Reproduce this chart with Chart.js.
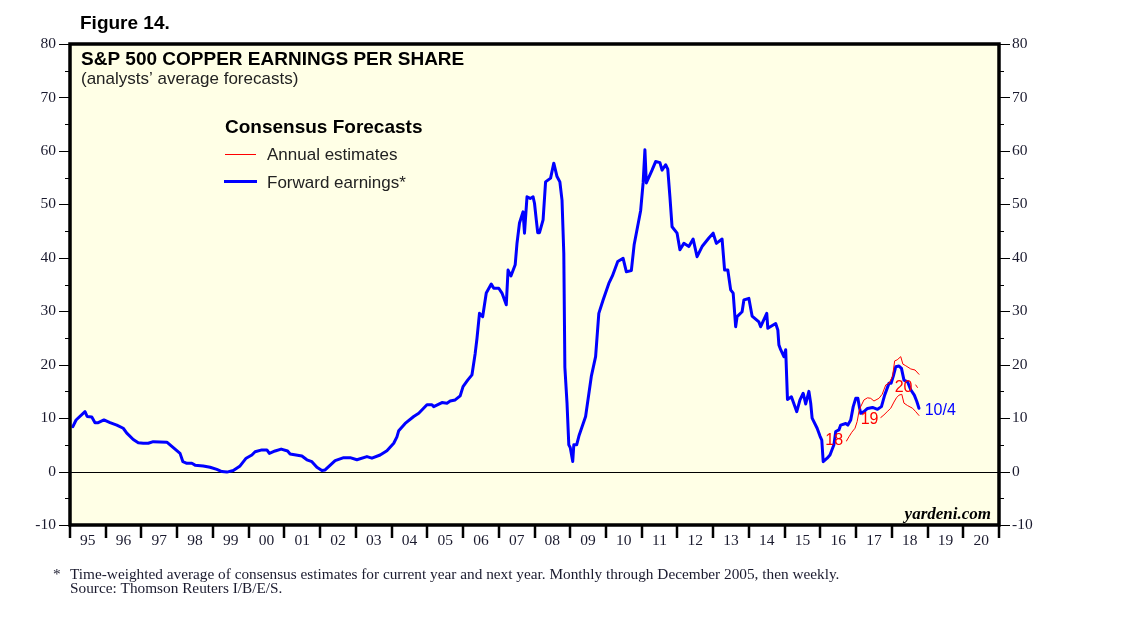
<!DOCTYPE html>
<html lang="en">
<head>
    <meta charset="UTF-8">
    <title>S&P 500 Copper Earnings Per Share</title>
    <script src="https://cdn.jsdelivr.net/npm/chart.js"></script>
    <style>
        body {
            margin: 0;
            background: #fff;
        }
        #wrap {
            width: 1138px;
            height: 621px;
        }
    </style>
</head>
<body>
    <div id="wrap"><canvas id="epsChart" width="1138" height="621"></canvas></div>

    <script>
        // forward earnings (blue), decimal years
        let fwdDates = [1995.08, 1995.17, 1995.42, 1995.48, 1995.61, 1995.70, 1995.79, 1995.95, 1996.12, 1996.31,
            1996.49, 1996.59, 1996.77, 1996.91, 1997.05, 1997.19, 1997.33, 1997.71, 1997.85, 1997.99,
            1998.08, 1998.16, 1998.27, 1998.41, 1998.50, 1998.73, 1998.92, 1999.11, 1999.25, 1999.39,
            1999.57, 1999.76, 1999.93, 2000.09, 2000.18, 2000.37, 2000.51, 2000.58, 2000.74, 2000.91,
            2001.09, 2001.16, 2001.49, 2001.63, 2001.77, 2001.91, 2002.05, 2002.14, 2002.42, 2002.66,
            2002.84, 2003.03, 2003.31, 2003.45, 2003.68, 2003.87, 2004.06, 2004.15, 2004.20, 2004.38,
            2004.62, 2004.76, 2004.99, 2005.13, 2005.18, 2005.41, 2005.55, 2005.64, 2005.78, 2005.92,
            2006.00, 2006.13, 2006.25, 2006.34, 2006.39, 2006.46, 2006.55, 2006.65, 2006.79, 2006.86,
            2007.00, 2007.09, 2007.21, 2007.26, 2007.34, 2007.46, 2007.51, 2007.58, 2007.68, 2007.72,
            2007.79, 2007.88, 2007.96, 2008.00, 2008.05, 2008.09, 2008.14, 2008.24, 2008.31, 2008.45,
            2008.54, 2008.63, 2008.71, 2008.77, 2008.82, 2008.85, 2008.91, 2008.96, 2009.00, 2009.07,
            2009.10, 2009.18, 2009.25, 2009.43, 2009.59, 2009.71, 2009.80, 2009.92, 2010.08, 2010.18,
            2010.33, 2010.48, 2010.57, 2010.71, 2010.79, 2010.97, 2011.04, 2011.09, 2011.13, 2011.29,
            2011.39, 2011.51, 2011.57, 2011.67, 2011.73, 2011.79, 2011.85, 2011.99, 2012.07, 2012.18,
            2012.32, 2012.44, 2012.55, 2012.69, 2012.88, 2013.00, 2013.09, 2013.25, 2013.32, 2013.41,
            2013.49, 2013.56, 2013.63, 2013.67, 2013.81, 2013.86, 2014.00, 2014.09, 2014.28, 2014.33,
            2014.50, 2014.53, 2014.75, 2014.81, 2014.84, 2014.89, 2014.98, 2015.03, 2015.08, 2015.19,
            2015.34, 2015.43, 2015.52, 2015.59, 2015.68, 2015.73, 2015.77, 2015.91, 2015.99, 2016.04,
            2016.08, 2016.19, 2016.27, 2016.38, 2016.43, 2016.52, 2016.57, 2016.71, 2016.77, 2016.85,
            2016.92, 2016.99, 2017.05, 2017.10, 2017.13, 2017.22, 2017.32, 2017.46, 2017.60, 2017.71,
            2017.80, 2017.92, 2017.98, 2018.04, 2018.11, 2018.20, 2018.27, 2018.34, 2018.44, 2018.53,
            2018.63, 2018.70, 2018.76];
        let fwdValues = [8.4, 9.65, 11.2, 10.3, 10.2, 9.15, 9.15, 9.65, 9.15, 8.7,
            8.1, 7.2, 6.0, 5.4, 5.3, 5.3, 5.6, 5.5, 4.7, 3.9,
            3.4, 1.85, 1.55, 1.55, 1.2, 1.05, 0.8, 0.4, 0.0, -0.1,
            0.2, 1.05, 2.5, 3.1, 3.7, 4.05, 4.05, 3.4, 3.85, 4.2,
            3.85, 3.3, 2.9, 2.2, 1.85, 0.8, 0.2, 0.3, 2.05, 2.6,
            2.6, 2.2, 2.8, 2.5, 3.1, 3.9, 5.3, 6.5, 7.65, 9.0,
            10.3, 10.9, 12.5, 12.5, 12.15, 12.9, 12.8, 13.2, 13.4, 14.15,
            15.9, 17.1, 18.1, 22.1, 24.9, 29.6, 29.0, 33.4, 35.1, 34.3,
            34.3, 33.4, 31.2, 37.7, 36.6, 38.7, 42.7, 46.5, 48.6, 44.6,
            51.4, 51.1, 51.4, 50.2, 47.1, 44.7, 44.7, 47.1, 54.2, 54.9,
            57.7, 55.2, 54.2, 50.8, 40.8, 19.5, 12.8, 5.0, 4.5, 1.9,
            5.0, 5.0, 6.8, 10.3, 17.8, 21.5, 29.6, 32.1, 35.2, 36.6,
            39.3, 39.9, 37.4, 37.6, 42.5, 48.8, 54.0, 60.2, 54.0, 56.4,
            58.0, 57.8, 56.4, 57.4, 56.6, 51.4, 45.8, 44.6, 41.5, 42.7,
            42.1, 43.5, 40.2, 42.1, 43.7, 44.6, 42.7, 43.5, 37.7, 37.7,
            34.0, 33.4, 27.1, 29.0, 29.9, 32.1, 32.4, 29.1, 28.0, 27.1,
            29.6, 26.8, 27.7, 26.5, 23.7, 22.8, 21.5, 22.8, 13.5, 14.0,
            11.2, 13.4, 14.65, 12.65, 15.0, 12.8, 10.0, 8.1, 6.65, 5.9,
            1.85, 2.5, 3.1, 5.0, 7.5, 7.8, 8.7, 9.0, 8.7, 9.65,
            12.15, 13.7, 13.7, 11.8, 10.9, 11.2, 11.8, 12.0, 11.65, 12.15,
            14.3, 16.5, 16.5, 17.8, 19.6, 19.75, 19.3, 17.1, 16.8, 15.3,
            14.3, 13.1, 11.85];

        // annual estimates (red)
        let est18Dates = [2016.73, 2016.80, 2016.88, 2016.97, 2017.03, 2017.08, 2017.13, 2017.22, 2017.32, 2017.41,
            2017.50, 2017.64, 2017.73, 2017.83, 2017.92, 2018.02, 2018.08, 2018.15, 2018.25, 2018.31,
            2018.39, 2018.53, 2018.65, 2018.76];
        let est18Values = [5.7, 6.5, 7.35, 8.1, 9.35, 11.2, 12.15, 13.4, 13.8, 13.7,
            13.2, 13.7, 14.45, 16.2, 16.5, 17.8, 20.7, 20.9, 21.5, 20.1,
            19.8, 19.2, 19.0, 18.2];
        let est19Dates = [2017.69, 2017.78, 2017.87, 2017.97, 2018.06, 2018.13, 2018.20, 2018.28, 2018.34, 2018.44,
            2018.58, 2018.67, 2018.76];
        let est19Values = [10.1, 10.6, 11.2, 11.85, 13.0, 13.8, 14.3, 14.45, 12.8, 12.35,
            11.85, 11.2, 10.5];
        let est20Dates = [2018.67, 2018.72, 2018.76];
        let est20Values = [16.2, 15.7, 15.3];

        let yearLabels = ["95", "96", "97", "98", "99", "00", "01", "02", "03", "04", "05", "06", "07",
            "08", "09", "10", "11", "12", "13", "14", "15", "16", "17", "18", "19", "20"];
        let yTickValues = [-10, 0, 10, 20, 30, 40, 50, 60, 70, 80];

        // in-chart labels: text, x (year), y (value), colour
        let lineLabels = [
            ["18", 2016.14, 5.8, "#ff0000"],
            ["19", 2017.13, 9.8, "#ff0000"],
            ["20", 2018.08, 15.8, "#ff0000"],
            ["10/4", 2018.92, 11.5, "#0000ff"]
        ];

        function toPoints(dates, values) {
            return dates.map((d, i) => ({ x: d, y: values[i] }));
        }

        const frame = {
            id: "frame",
            beforeDraw(chart) {
                let c = chart.ctx, a = chart.chartArea;
                c.save();
                c.fillStyle = "#ffffe6";
                c.fillRect(a.left, a.top, a.right - a.left, a.bottom - a.top);
                c.restore();
            },
            beforeDatasetsDraw(chart) {
                let c = chart.ctx, a = chart.chartArea, y = chart.scales.y;
                let y0 = Math.round(y.getPixelForValue(0)) + 0.5;
                c.save();
                c.strokeStyle = "#000";
                c.lineWidth = 1.2;
                c.beginPath();
                c.moveTo(a.left, y0);
                c.lineTo(a.right, y0);
                c.stroke();
                c.restore();
            },
            afterDraw(chart) {
                let c = chart.ctx, a = chart.chartArea;
                let x = chart.scales.x, y = chart.scales.y;
                c.save();

                // y ticks both sides
                c.strokeStyle = "#000";
                c.lineWidth = 1.2;
                for (let v = -10; v <= 80; v += 5) {
                    let py = Math.round(y.getPixelForValue(v)) + 0.5;
                    let len = v % 10 === 0 ? 11 : 5;
                    c.beginPath();
                    c.moveTo(a.left - len, py);
                    c.lineTo(a.left, py);
                    c.moveTo(a.right, py);
                    c.lineTo(a.right + len, py);
                    c.stroke();
                }
                c.fillStyle = "#1a1a2e";
                c.font = "15.5px 'Liberation Serif', serif";
                c.textBaseline = "middle";
                yTickValues.forEach(v => {
                    let py = y.getPixelForValue(v);
                    c.textAlign = "right";
                    c.fillText(String(v), a.left - 14, py);
                    c.textAlign = "left";
                    c.fillText(String(v), a.right + 13, py);
                });

                // x ticks at year boundaries, labels mid-year
                c.lineWidth = 2.5;
                for (let yr = 1995; yr <= 2021; yr++) {
                    let px = Math.round(x.getPixelForValue(yr));
                    c.beginPath();
                    c.moveTo(px, a.bottom);
                    c.lineTo(px, a.bottom + 13);
                    c.stroke();
                }
                c.textAlign = "center";
                c.textBaseline = "alphabetic";
                yearLabels.forEach((lab, i) => {
                    c.fillText(lab, x.getPixelForValue(1995.5 + i), a.bottom + 20);
                });

                // frame
                c.lineWidth = 3.5;
                c.strokeRect(a.left, a.top, a.right - a.left, a.bottom - a.top);

                // labels on the lines
                c.font = "16px 'Liberation Sans', Arial, sans-serif";
                c.textAlign = "left";
                c.textBaseline = "middle";
                lineLabels.forEach(l => {
                    c.fillStyle = l[3];
                    c.fillText(l[0], x.getPixelForValue(l[1]), y.getPixelForValue(l[2]));
                });

                // titles
                c.fillStyle = "#000";
                c.textBaseline = "alphabetic";
                c.font = "bold 19px 'Liberation Sans', Arial, sans-serif";
                c.fillText("Figure 14.", 80, 29);
                c.fillText("S&P 500 COPPER EARNINGS PER SHARE", 81, 65);
                c.font = "17px 'Liberation Sans', Arial, sans-serif";
                c.fillStyle = "#222";
                c.fillText("(analysts\u2019 average forecasts)", 81, 84);

                // legend
                c.fillStyle = "#000";
                c.font = "bold 19px 'Liberation Sans', Arial, sans-serif";
                c.fillText("Consensus Forecasts", 225, 133);
                c.font = "17px 'Liberation Sans', Arial, sans-serif";
                c.fillStyle = "#222";
                c.fillText("Annual estimates", 267, 160);
                c.fillText("Forward earnings*", 267, 188);
                c.strokeStyle = "#ff0000";
                c.lineWidth = 1;
                c.beginPath();
                c.moveTo(225, 154.5);
                c.lineTo(256, 154.5);
                c.stroke();
                c.strokeStyle = "#0000ff";
                c.lineWidth = 3;
                c.beginPath();
                c.moveTo(224, 181.5);
                c.lineTo(257, 181.5);
                c.stroke();

                // watermark
                c.fillStyle = "#000";
                c.textAlign = "right";
                c.font = "italic bold 17px 'Liberation Serif', serif";
                c.fillText("yardeni.com", a.right - 8, a.bottom - 6);

                // footnote
                c.textAlign = "left";
                c.fillStyle = "#1a1a2e";
                c.font = "15.3px 'Liberation Serif', serif";
                c.fillText("*", 53, 579);
                c.fillText("Time-weighted average of consensus estimates for current year and next year. Monthly through December 2005, then weekly.", 70, 579);
                c.fillText("Source: Thomson Reuters I/B/E/S.", 70, 593);
                c.restore();
            }
        };

        let ctx = document.getElementById("epsChart").getContext("2d");
        let chart = new Chart(ctx, {
            type: "line",
            data: {
                datasets: [
                    {
                        label: "Annual estimates 2018",
                        data: toPoints(est18Dates, est18Values),
                        borderColor: "#ff0000",
                        borderWidth: 1
                    },
                    {
                        label: "Annual estimates 2019",
                        data: toPoints(est19Dates, est19Values),
                        borderColor: "#ff0000",
                        borderWidth: 1
                    },
                    {
                        label: "Annual estimates 2020",
                        data: toPoints(est20Dates, est20Values),
                        borderColor: "#ff0000",
                        borderWidth: 1,
                        borderDash: [3, 3]
                    },
                    {
                        label: "Forward earnings",
                        data: toPoints(fwdDates, fwdValues),
                        borderColor: "#0000ff",
                        borderWidth: 3
                    }
                ]
            },
            options: {
                responsive: false,
                animation: false,
                devicePixelRatio: 1,
                layout: { padding: { left: 70, right: 139, top: 44, bottom: 96 } },
                elements: {
                    point: { radius: 0 },
                    line: { tension: 0, borderJoinStyle: "round", borderCapStyle: "round" }
                },
                plugins: {
                    legend: { display: false },
                    tooltip: { enabled: false }
                },
                scales: {
                    x: { type: "linear", min: 1995, max: 2021, display: false },
                    y: { min: -10, max: 80, display: false }
                }
            },
            plugins: [frame]
        });
    </script>
</body>
</html>
